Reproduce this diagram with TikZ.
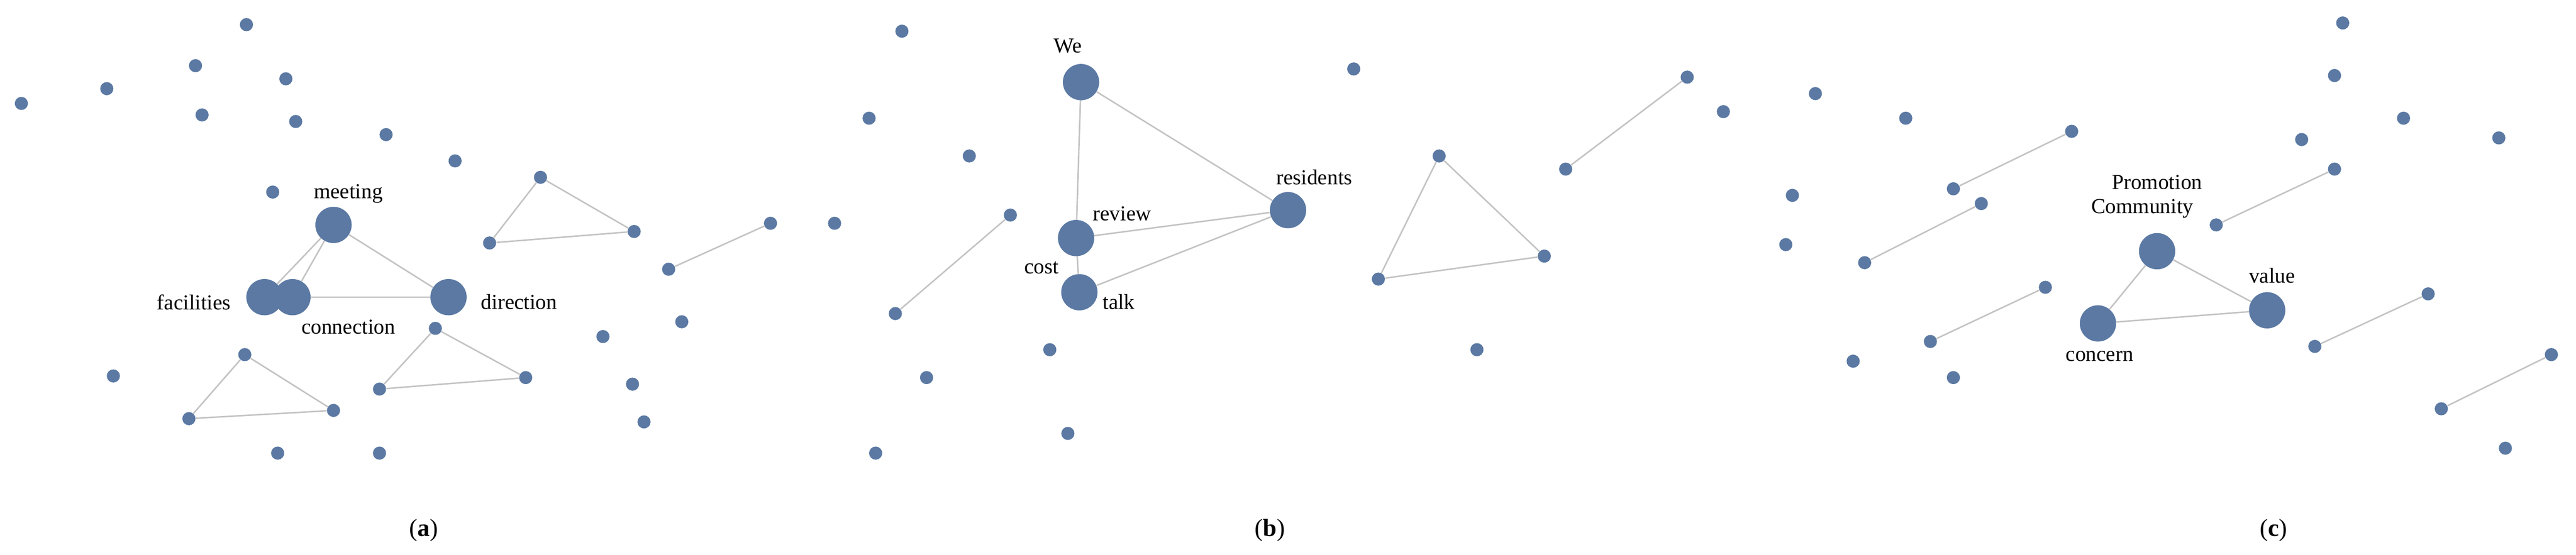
\documentclass[tikz,border=0pt]{standalone}
\usepackage{fontspec}
\setmainfont{Liberation Serif}
\begin{document}
\begin{tikzpicture}[x=1pt,y=-1pt,
  sd/.style={circle,fill=nodeb,inner sep=0pt,minimum size=8pt},
  bd/.style={circle,fill=nodeb,inner sep=0pt,minimum size=22pt},
  ed/.style={draw=edgeg,line width=0.9pt},
  lb/.style={font=\fontsize{13}{13}\selectfont},
  captxt/.style={font=\fontsize{15}{15}\selectfont}]
\definecolor{nodeb}{RGB}{91,121,163}
\definecolor{edgeg}{RGB}{195,195,195}
\useasboundingbox (0,0) rectangle (1568,338);
% ---- panel a
\foreach \x/\y [count=\i] in {150/15,13/63,65/54,119/40,174/48,123/70,180/74,235/82,277/98,166/117,407/164,415/196,367/205,385/234,392/257,69/229,169/276,231/276}
  \node[sd] (a\i) at (\x,\y) {};
\node[sd] (at1) at (329,108) {}; \node[sd] (at2) at (386,141) {}; \node[sd] (at3) at (298,148) {};
\node[sd] (ap1) at (469,136) {};
\node[sd] (ab1) at (149,216) {}; \node[sd] (ab2) at (115,255) {}; \node[sd] (ab3) at (203,250) {};
\node[sd] (ac1) at (265,200) {}; \node[sd] (ac2) at (231,237) {}; \node[sd] (ac3) at (320,230) {};
\node[bd] (meet) at (203,137) {};
\node[bd] (fac) at (161,181) {};
\node[bd] (con) at (178,181) {};
\node[bd] (dir) at (273,181) {};
\draw[ed] (meet)--(fac) (meet)--(con) (meet)--(dir) (con)--(dir) (fac)--(con);
\draw[ed] (at1)--(at2) (at1)--(at3) (at3)--(at2) (ap1)--(a11);
\draw[ed] (ab1)--(ab2) (ab1)--(ab3) (ab2)--(ab3) (ac1)--(ac2) (ac1)--(ac3) (ac2)--(ac3);
\node[bd] at (203,137) {}; \node[bd] at (161,181) {}; \node[bd] at (178,181) {}; \node[bd] at (273,181) {};
\node[lb] (lmeet) at (212,118) {meeting};
\node[lb] (lfac) at (118,184) {facilities};
\node[lb] (lcon) at (212,199) {connection};
\node[lb] (ldir) at (316,184) {direction};
\node[captxt] (capa) at (258,323) {(\textbf{a})};
% ---- panel b
\foreach \x/\y [count=\i] in {549/19,529/72,590/95,508/136,564/230,639/213,650/264,533/276,824/42,899/213,1049/68,1105/57,1160/72}
  \node[sd] (b\i) at (\x,\y) {};
\node[sd] (bp1) at (615,131) {}; \node[sd] (bp2) at (545,191) {};
\node[sd] (bt1) at (876,95) {}; \node[sd] (bt2) at (839,170) {}; \node[sd] (bt3) at (940,156) {};
\node[sd] (bq1) at (953,103) {}; \node[sd] (bq2) at (1027,47) {};
\node[bd] (we) at (658,50) {};
\node[bd] (rev) at (655,145) {};
\node[bd] (talk) at (657,178) {};
\node[bd] (res) at (784,128) {};
\draw[ed] (we)--(rev) (we)--(res) (rev)--(res) (talk)--(res) (rev)--(talk);
\draw[ed] (bp1)--(bp2) (bt1)--(bt2) (bt1)--(bt3) (bt2)--(bt3) (bq1)--(bq2);
\node[bd] at (658,50) {}; \node[bd] at (655,145) {}; \node[bd] at (657,178) {}; \node[bd] at (784,128) {};
\node[lb] (lwe) at (650,28) {We};
\node[lb] (lrev) at (683,130) {review};
\node[lb] (lcost) at (634,163) {cost};
\node[lb] (ltalk) at (681,184) {talk};
\node[lb] (lres) at (800,108) {residents};
\node[captxt] (capb) at (773,323) {(\textbf{b})};
% ---- panel c
\foreach \x/\y [count=\i] in {1426/14,1421/46,1463/72,1401/85,1521/84,1091/119,1087/149,1128/220,1189/230,1525/273}
  \node[sd] (c\i) at (\x,\y) {};
\node[sd] (cp1) at (1189,115) {}; \node[sd] (cp2) at (1261,80) {};
\node[sd] (cq1) at (1206,124) {}; \node[sd] (cq2) at (1135,160) {};
\node[sd] (cr1) at (1245,175) {}; \node[sd] (cr2) at (1175,208) {};
\node[sd] (cs1) at (1349,137) {}; \node[sd] (cs2) at (1421,103) {};
\node[sd] (cu1) at (1409,211) {}; \node[sd] (cu2) at (1478,179) {};
\node[sd] (cv1) at (1486,249) {}; \node[sd] (cv2) at (1553,216) {};
\node[bd] (com) at (1313,153) {};
\node[bd] (val) at (1380,189) {};
\node[bd] (conc) at (1277,197) {};
\draw[ed] (com)--(val) (com)--(conc) (conc)--(val);
\draw[ed] (cp1)--(cp2) (cq1)--(cq2) (cr1)--(cr2) (cs1)--(cs2) (cu1)--(cu2) (cv1)--(cv2);
\node[bd] at (1313,153) {}; \node[bd] at (1380,189) {}; \node[bd] at (1277,197) {};
\node[lb] (lprom) at (1313,111) {Promotion};
\node[lb] (lcom) at (1304,127) {Community};
\node[lb] (lval) at (1383,168) {value};
\node[lb] (lconc) at (1278,217) {concern};
\node[captxt] (capc) at (1384,323) {(\textbf{c})};
\end{tikzpicture}
\end{document}
